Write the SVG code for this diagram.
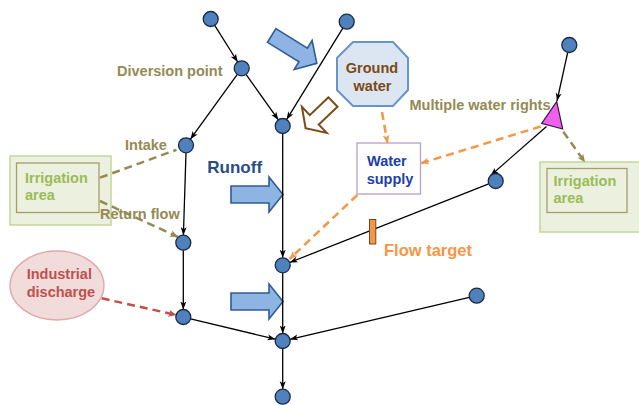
<svg xmlns="http://www.w3.org/2000/svg" width="639" height="405" viewBox="0 0 639 405">
  <style>
    .lbl { font-family: "Liberation Sans", Arial, sans-serif; font-weight: bold; font-size: 14.5px; }
    .olive { fill: #948A54; }
    .green { fill: #9BBB59; }
    .node { fill: #4F81BD; stroke: #1B2A44; stroke-width: 1.3; }
    .flow { fill: none; stroke: #000; stroke-width: 1.3; marker-end: url(#ah); }
    .flow-plain { fill: none; stroke: #000; stroke-width: 1.3; }
    .dash { fill: none; stroke-width: 2.5; stroke-dasharray: 8 5; }
    .bigarrow { fill: #8EB4E3; stroke: #2F5C94; stroke-width: 1.6; }
  </style>
  <defs>
    <marker id="ah" markerUnits="userSpaceOnUse" markerWidth="9" markerHeight="7" refX="8" refY="3.5" orient="auto">
      <path d="M0,0.5 L8,3.5 L0,6.5 L2,3.5 z" fill="#000"/>
    </marker>
    <marker id="ah-orange" markerUnits="userSpaceOnUse" markerWidth="9" markerHeight="8" refX="8" refY="4" orient="auto">
      <path d="M0,0.5 L8,4 L0,7.5 L2,4 z" fill="#F79646"/>
    </marker>
    <marker id="ah-olive" markerUnits="userSpaceOnUse" markerWidth="9" markerHeight="8" refX="8" refY="4" orient="auto">
      <path d="M0,0.5 L8,4 L0,7.5 L2,4 z" fill="#948A54"/>
    </marker>
    <marker id="ah-red" markerUnits="userSpaceOnUse" markerWidth="9" markerHeight="8" refX="8" refY="4" orient="auto">
      <path d="M0,0.5 L8,4 L0,7.5 L2,4 z" fill="#C0504D"/>
    </marker>
    <path id="block-arrow" d="M0,-8.5 H38 V-17.5 L52,0 L38,17.5 V8.5 H0 Z"/>
  </defs>

  <!-- inflow arrows -->
  <g id="inflow-arrows">
    <path class="bigarrow" d="M0,-8 H37 V-17 L53,0 L37,17 V8 H0 Z" transform="translate(271.7,35.5) rotate(31.7)"/>
    <use href="#block-arrow" class="bigarrow" transform="translate(231,194.5)"/>
    <use href="#block-arrow" class="bigarrow" transform="translate(231,301.5)"/>
    <polygon points="328.5,97.3 309.8,115.2 301.9,106.9 305.6,128.2 326.7,132.9 318.8,124.6 337.5,106.7" fill="#fff" stroke="#7B4A14" stroke-width="2" stroke-linejoin="miter"/>
  </g>

  <!-- areas and sources -->
  <g id="irrigation-left">
    <rect x="10" y="156" width="101" height="69" fill="#EBF1DE" stroke="#C3D69B" stroke-width="1.5"/>
    <rect x="16.5" y="163" width="82.5" height="49.5" fill="none" stroke="#A89C6C" stroke-width="1.3"/>
    <text class="lbl green" x="25" y="182.5">Irrigation</text>
    <text class="lbl green" x="25" y="200">area</text>
  </g>
  <g id="irrigation-right">
    <rect x="540" y="162" width="100" height="70" fill="#EBF1DE" stroke="#C3D69B" stroke-width="1.5"/>
    <rect x="547" y="168.5" width="80" height="44" fill="none" stroke="#A89C6C" stroke-width="1.3"/>
    <text class="lbl green" x="553.5" y="185.5">Irrigation</text>
    <text class="lbl green" x="553.5" y="203">area</text>
  </g>
  <g id="ground-water">
    <polygon points="353,42 393,42 408,58 408,90 393,106 353,106 337,90 337,58" fill="#DCE6F2" stroke="#6A94C8" stroke-width="2"/>
    <text class="lbl" fill="#7B4A14" x="372" y="72.5" text-anchor="middle">Ground</text>
    <text class="lbl" fill="#7B4A14" x="372.5" y="90.5" text-anchor="middle">water</text>
  </g>
  <g id="water-supply">
    <rect x="357" y="143" width="63.5" height="51" fill="#fff" stroke="#B3A2C7" stroke-width="1.3"/>
    <text class="lbl" fill="#2040A8" x="367" y="165.5">Water</text>
    <text class="lbl" fill="#2040A8" x="366.7" y="183.5">supply</text>
  </g>
  <g id="industrial-discharge">
    <ellipse cx="57" cy="285.5" rx="47" ry="34.5" fill="#F2DCDB" stroke="#E0A9A8" stroke-width="1.3"/>
    <text class="lbl" fill="#C0504D" x="26.7" y="278.5">Industrial</text>
    <text class="lbl" fill="#C0504D" x="26.7" y="297">discharge</text>
  </g>

  <!-- connectors -->
  <g id="connectors">
    <line class="flow" x1="214.7" y1="25.4" x2="237.7" y2="62"/>
    <line class="flow" x1="237.3" y1="74.4" x2="190.4" y2="139.2"/>
    <line class="flow" x1="246" y1="74.4" x2="278.4" y2="119.9"/>
    <line class="flow" x1="342.8" y1="28.1" x2="286.6" y2="119.6"/>
    <line class="flow" x1="186" y1="152.8" x2="183.4" y2="235.2"/>
    <line class="flow" x1="183.3" y1="250.2" x2="183.3" y2="309.5"/>
    <line class="flow" x1="282.7" y1="133.5" x2="282.7" y2="257.8"/>
    <line class="flow" x1="488.7" y1="183.8" x2="289.7" y2="262.5"/>
    <line class="flow" x1="282.7" y1="272.8" x2="282.7" y2="333.5"/>
    <line class="flow" x1="190.6" y1="318.8" x2="275.4" y2="339.2"/>
    <line class="flow" x1="469.4" y1="297.4" x2="290" y2="339.3"/>
    <line class="flow" x1="282.7" y1="348.5" x2="282.7" y2="389.2"/>
    <line class="flow" x1="567.7" y1="52.3" x2="557" y2="101"/>
    <line class="flow" x1="546.5" y1="126.5" x2="490.6" y2="175.5"/>

    <line class="dash" stroke="#F79646" marker-end="url(#ah-orange)" x1="382" y1="112" x2="387.5" y2="143"/>
    <line class="dash" stroke="#F79646" marker-end="url(#ah-orange)" x1="540.7" y1="126.5" x2="421" y2="163.3"/>
    <line class="dash" stroke="#F79646" marker-end="url(#ah-orange)" x1="357.3" y1="195" x2="289.5" y2="259"/>
    <line class="dash" stroke="#948A54" marker-end="url(#ah-olive)" x1="563.3" y1="131.7" x2="585" y2="162.3"/>
    <line class="dash" stroke="#948A54" x1="100" y1="177.7" x2="176.5" y2="149.8"/>
    <line class="dash" stroke="#948A54" marker-end="url(#ah-olive)" x1="100" y1="201" x2="178" y2="237"/>
    <line class="dash" stroke="#C0504D" marker-end="url(#ah-red)" x1="101.7" y1="298.3" x2="176.5" y2="315"/>
  </g>

  <!-- flow target marker -->
  <g id="flow-target">
    <rect x="369.5" y="219.5" width="6.3" height="24.5" fill="#F79646" stroke="#6B4A22" stroke-width="1"/>
    <text class="lbl" fill="#F79646" x="384" y="256" style="font-size:16.5px">Flow target</text>
  </g>

  <!-- network nodes -->
  <g id="node-n1"><circle class="node" cx="210.7" cy="19" r="7.5"/></g>
  <g id="node-n2"><circle class="node" cx="346.7" cy="21.7" r="7.5"/></g>
  <g id="node-diversion"><circle class="node" cx="241.7" cy="68.3" r="7.5"/></g>
  <g id="node-n4"><circle class="node" cx="282.7" cy="126" r="7.5"/></g>
  <g id="node-intake"><circle class="node" cx="186" cy="145.3" r="7.5"/></g>
  <g id="node-return"><circle class="node" cx="183.3" cy="242.7" r="7.5"/></g>
  <g id="node-industrial"><circle class="node" cx="183.3" cy="317" r="7.5"/></g>
  <g id="node-mid"><circle class="node" cx="282.7" cy="265.3" r="7.5"/></g>
  <g id="node-confluence"><circle class="node" cx="282.7" cy="341" r="7.5"/></g>
  <g id="node-outlet"><circle class="node" cx="282.7" cy="396.7" r="7.5"/></g>
  <g id="node-topright"><circle class="node" cx="569.3" cy="45" r="7.5"/></g>
  <g id="node-rightmid"><circle class="node" cx="495.7" cy="181" r="7.5"/></g>
  <g id="node-rightlower"><circle class="node" cx="476.7" cy="295.7" r="7.5"/></g>
  <g id="node-water-rights">
    <polygon points="556.7,101.7 541.7,123.3 562.7,129" fill="#F060F0" stroke="#3A1A3A" stroke-width="1.2"/>
  </g>

  <!-- labels -->
  <g id="labels">
    <text class="lbl olive" x="117" y="76">Diversion point</text>
    <text class="lbl olive" x="125" y="150">Intake</text>
    <text class="lbl olive" x="100" y="218.5">Return flow</text>
    <text class="lbl olive" x="409.5" y="110">Multiple water rights</text>
    <text class="lbl" fill="#284E86" x="207.3" y="173" style="font-size:17px">Runoff</text>
  </g>
</svg>
